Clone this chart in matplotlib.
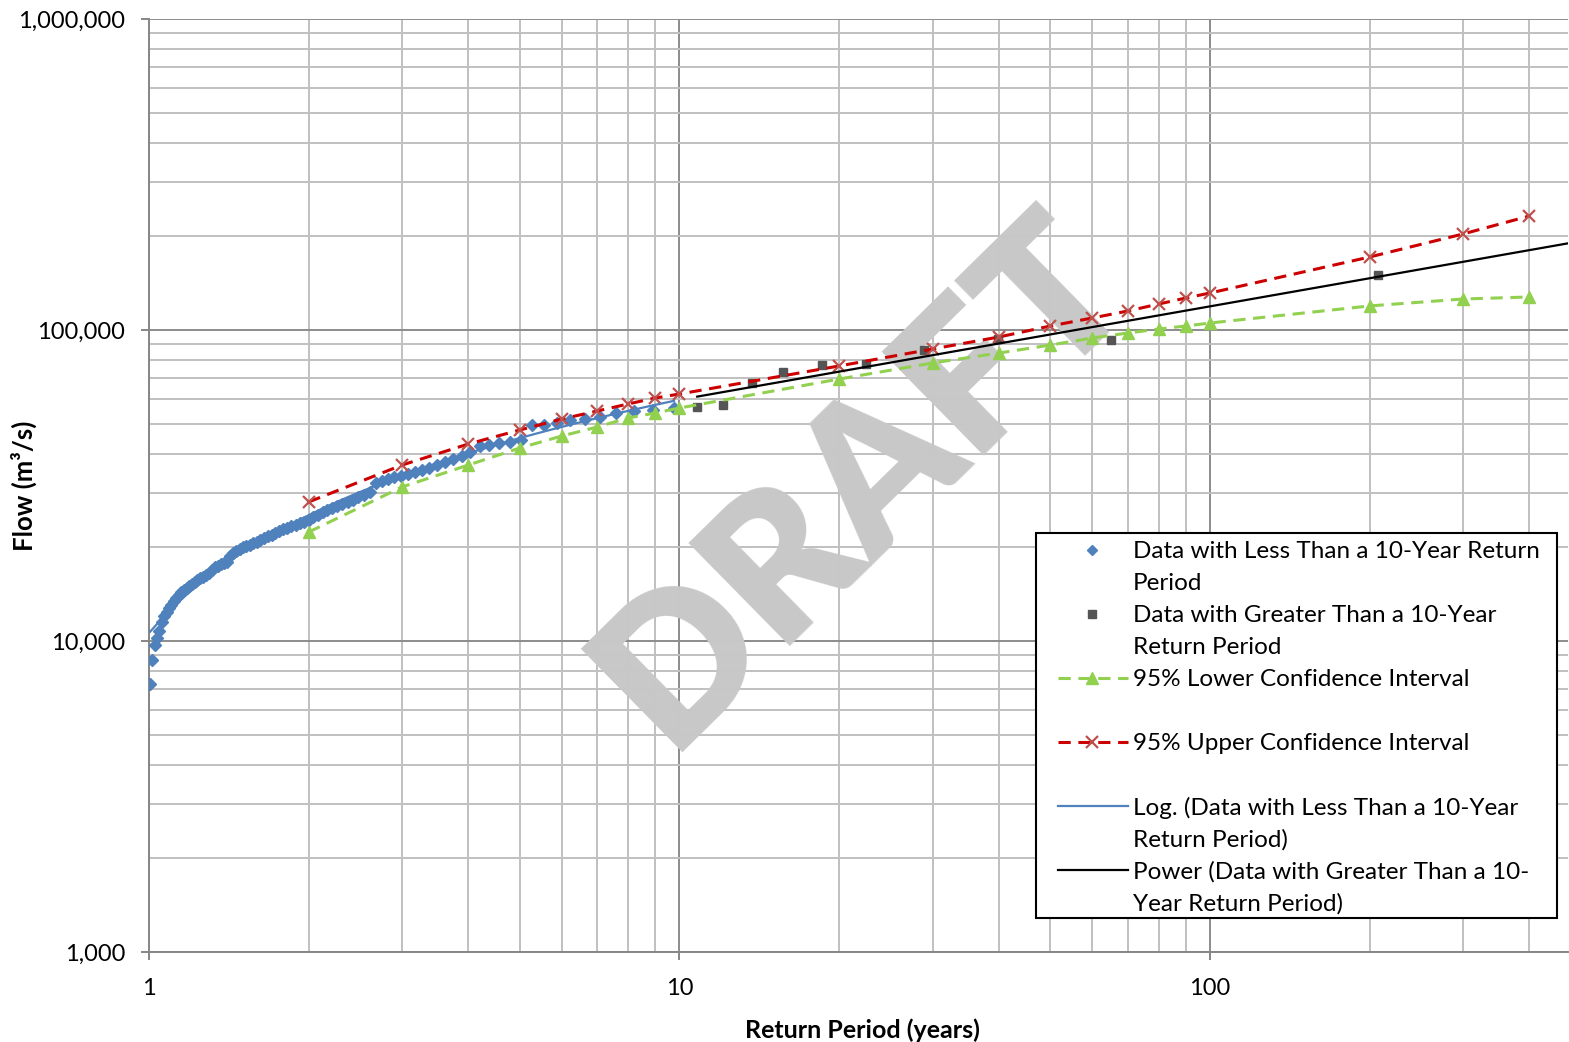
import numpy as np
import matplotlib.pyplot as plt
from matplotlib.lines import Line2D
from matplotlib.patches import Rectangle
from matplotlib.ticker import LogLocator, NullFormatter, FixedLocator, FixedFormatter

plt.rcParams['font.family'] = ['Lato', 'DejaVu Sans']

# 重现期小于10年的数据 (years, m3/s)
t_low = [1.005, 1.015, 1.025, 1.036, 1.046, 1.057, 1.068, 1.079, 1.091, 1.102,
         1.114, 1.126, 1.139, 1.151, 1.164, 1.178, 1.191, 1.205, 1.219, 1.234,
         1.249, 1.264, 1.280, 1.296, 1.313, 1.330, 1.347, 1.365, 1.383, 1.402,
         1.421, 1.441, 1.461, 1.482, 1.504, 1.526, 1.549, 1.573, 1.597, 1.622,
         1.648, 1.675, 1.703, 1.731, 1.761, 1.792, 1.823, 1.856, 1.890, 1.925,
         1.962, 2.000, 2.040, 2.081, 2.124, 2.168, 2.215, 2.263, 2.314, 2.367,
         2.423, 2.481, 2.542, 2.607, 2.674, 2.745, 2.821, 2.900, 2.984, 3.073,
         3.167, 3.267, 3.374, 3.488, 3.611, 3.742, 3.883, 4.034, 4.199, 4.377,
         4.571, 4.783, 5.016, 5.272, 5.556, 5.872, 6.227, 6.627, 7.082, 7.605,
         8.210, 8.920, 9.765]
q_low = [7270, 8690, 9710, 10220, 10770, 11510, 12040, 12400, 12770, 13060,
         13450, 13750, 14060, 14380, 14590, 14810, 15030, 15260, 15480, 15710,
         15950, 16070, 16300, 16550, 16920, 17300, 17420, 17690, 17820, 17950,
         18760, 19190, 19470, 19760, 20060, 20210, 20350, 20660, 20810, 21130,
         21440, 21760, 21920, 22250, 22580, 22920, 23090, 23430, 23610, 23950,
         24130, 24490, 25040, 25420, 25990, 26380, 26770, 27170, 27570, 27990,
         28400, 29040, 29480, 30140, 32210, 32700, 33180, 33680, 33930, 34430,
         34950, 35460, 36000, 36810, 37640, 38480, 39350, 40520, 42370, 42680,
         43320, 43640, 44290, 49490, 49490, 50230, 51360, 51740, 52520, 54090,
         54900, 55310, 56130]

# 重现期大于10年的数据
t_high = [10.8, 12.1, 13.7, 15.7, 18.6, 22.5, 28.9, 39.8, 65.0, 207.0]
q_high = [56500, 57400, 67600, 73300, 77200, 77800, 86300, 93600, 92900, 150300]

# 95% 置信区间
ci_t = [2, 3, 4, 5, 6, 7, 8, 9, 10, 20, 30, 40, 50, 60, 70, 80, 90, 100, 200, 300, 400]
ci_lower = [22400, 31280, 36800, 41740, 45620, 48770, 52130, 54090, 56130, 69560,
            78330, 84330, 89460, 94250, 97800, 100700, 103000, 105300, 119500, 125800, 127700]
ci_upper = [28000, 36800, 43000, 47700, 51740, 54900, 57820, 60450, 62260, 76630,
            86890, 94950, 103000, 109300, 115100, 121200, 126700, 131500, 171700, 203600, 232600]

x_ticks = [1, 10, 100]
x_tick_labels = ['1', '10', '100']
y_ticks = [1000, 10000, 100000, 1000000]
y_tick_labels = ['1,000', '10,000', '100,000', '1,000,000']

legend_labels = [
    ['Data with Less Than a 10-Year Return', 'Period'],
    ['Data with Greater Than a 10-Year', 'Return Period'],
    ['95% Lower Confidence Interval'],
    ['95% Upper Confidence Interval'],
    ['Log. (Data with Less Than a 10-Year', 'Return Period)'],
    ['Power (Data with Greater Than a 10-', 'Year Return Period)'],
]

x_max = 473

fig = plt.figure(figsize=(15.69, 10.42), dpi=100)
ax = fig.add_axes([149 / 1569, 90 / 1042, 1419 / 1569, 933 / 1042])
ax.set_xscale('log')
ax.set_yscale('log')
ax.set_xlim(1, x_max)
ax.set_ylim(1000, 1000000)

# 趋势线
a, b = np.polyfit(np.log(t_low), q_low, 1)
t_log = np.linspace(min(t_low), max(t_low), 200)
p = np.polyfit(np.log10(t_high), np.log10(q_high), 1)
t_pow = np.logspace(np.log10(t_high[0]), np.log10(x_max), 100)

blue = '#4F81BD'
ax.plot(t_low, q_low, ls='none', marker='D', ms=5.8, color=blue, zorder=3)
ax.plot(t_high, q_high, ls='none', marker='s', ms=5.5, color='#555555', zorder=3)
ax.plot(ci_t, ci_lower, color='#92D050', lw=2.2, dashes=(4, 2.5), marker='^', ms=8,
        zorder=4)
ax.plot(ci_t, ci_upper, color='#CC0000', lw=2.2, dashes=(4, 2.5), marker='x', ms=8,
        mec='#C0504D', mew=1.6, zorder=5)
ax.plot(t_log, a * np.log(t_log) + b, color=blue, lw=1.6, zorder=6)
ax.plot(t_pow, 10 ** np.polyval(p, np.log10(t_pow)), color='black', lw=1.6, zorder=6)

# DRAFT 水印
ax.text(0.503, 0.505, 'DRAFT', transform=ax.transAxes, rotation=44.5, fontsize=143,
        fontweight='heavy', color='#c8c8c8', ha='center', va='center', zorder=1)

# 网格和坐标轴
ax.set_axisbelow(True)
ax.xaxis.set_minor_locator(LogLocator(base=10, subs=np.arange(2, 10)))
ax.yaxis.set_minor_locator(LogLocator(base=10, subs=np.arange(2, 10)))
ax.xaxis.set_minor_formatter(NullFormatter())
ax.yaxis.set_minor_formatter(NullFormatter())
ax.grid(which='major', color='#8c8c8c', lw=1.4)
ax.grid(which='minor', color='#c0c0c0', lw=1.4)
ax.xaxis.set_major_locator(FixedLocator(x_ticks))
ax.xaxis.set_major_formatter(FixedFormatter(x_tick_labels))
ax.yaxis.set_major_locator(FixedLocator(y_ticks))
ax.yaxis.set_major_formatter(FixedFormatter(y_tick_labels))
ax.tick_params(which='major', length=6, width=1.4, color='#868686', labelsize=17)
ax.tick_params(axis='x', which='major', pad=13)
ax.tick_params(axis='y', which='major', pad=11)
ax.tick_params(which='minor', length=0)
for s in ['top', 'right']:
    ax.spines[s].set_visible(False)
for s in ['left', 'bottom']:
    ax.spines[s].set_color('#868686')
    ax.spines[s].set_linewidth(1.4)

ax.set_xlabel('Return Period (years)', fontsize=18, fontweight='bold')
ax.xaxis.set_label_coords(0.503, -0.071)
ax.set_ylabel('Flow (m³/s)', fontsize=18.5, fontweight='bold')
ax.yaxis.set_label_coords(-0.079, 0.5)

# 图例 (手动绘制, 标记对齐首行)
ax.add_patch(Rectangle((0.6251, 0.0364), 0.3671, 0.4127, transform=ax.transAxes,
                       facecolor='white', edgecolor='black', lw=1.5, zorder=10))
handles = [
    dict(line=None, marker='D', ms=5.0, color=blue),
    dict(line=None, marker='s', ms=5.5, color='#555555'),
    dict(line=dict(color='#92D050', dashes=(4, 2.5)), marker='^', ms=8, color='#92D050'),
    dict(line=dict(color='#CC0000', dashes=(4, 2.5)), marker='x', ms=8, color='#C0504D'),
    dict(line=dict(color=blue), marker=None),
    dict(line=dict(color='black'), marker=None),
]
row_h = 64 / 933
line_h = 32 / 933
for i, (h, lines) in enumerate(zip(handles, legend_labels)):
    yc = 0.4309 - i * row_h
    if h['line'] is not None:
        ax.add_line(Line2D([0.6406, 0.6900], [yc, yc], transform=ax.transAxes,
                           lw=2.2 if 'dashes' in h['line'] else 1.6, zorder=11, **h['line']))
    if h['marker'] is not None:
        ax.add_line(Line2D([0.6645], [yc], transform=ax.transAxes, ls='none',
                           marker=h['marker'], ms=h['ms'], color=h['color'],
                           mew=1.6 if h['marker'] == 'x' else 1.0, zorder=12))
    for k, txt in enumerate(lines):
        ax.text(0.6934, yc - k * line_h, txt, transform=ax.transAxes, fontsize=17.5,
                va='center_baseline', ha='left', zorder=12)

fig.savefig('out.png', dpi=100)
